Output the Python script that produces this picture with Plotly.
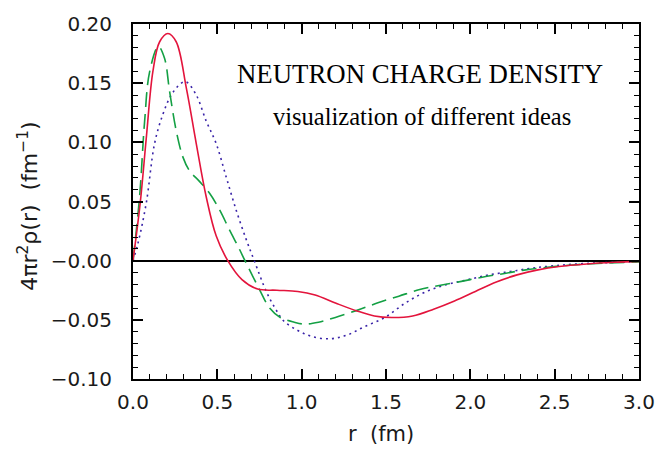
import plotly.graph_objects as go

# red solid curve
r_red = [0, 0.043, 0.079, 0.118, 0.158, 0.207, 0.256, 0.316, 0.375, 0.434, 0.493, 0.562,
         0.646, 0.739, 0.853, 0.977, 1.08, 1.204, 1.328, 1.431, 1.534, 1.658, 1.782, 1.906,
         2.03, 2.154, 2.277, 2.401, 2.525, 2.69, 2.856, 3.0]
y_red = [0, 0.049, 0.104, 0.160, 0.185, 0.192, 0.185, 0.146, 0.099, 0.054, 0.021, 0.0,
         -0.016, -0.024, -0.025, -0.026, -0.029, -0.036, -0.0425, -0.0467, -0.048, -0.0467,
         -0.041, -0.034, -0.026, -0.018, -0.012, -0.0078, -0.005, -0.0028, -0.0014, -0.0006]

# green dashed curve
r_green = [0, 0.039, 0.069, 0.099, 0.15, 0.187, 0.217, 0.256, 0.296, 0.335, 0.394, 0.454,
           0.513, 0.572, 0.631, 0.664, 0.75, 0.81, 0.873, 0.956, 1.018, 1.10, 1.20, 1.328,
           1.452, 1.576, 1.70, 1.823, 1.947, 2.07, 2.195, 2.319, 2.443, 2.608, 2.814, 3.0]
y_green = [0, 0.054, 0.118, 0.160, 0.181, 0.171, 0.143, 0.110, 0.0875, 0.076, 0.067, 0.057,
           0.043, 0.026, 0.0097, 0.0, -0.0244, -0.040, -0.048, -0.052, -0.0536, -0.052, -0.048,
           -0.042, -0.0356, -0.030, -0.0244, -0.0208, -0.0175, -0.014, -0.011, -0.008, -0.0058,
           -0.0036, -0.0019, -0.0011]

# blue dotted curve
r_blue = [0, 0.030, 0.079, 0.128, 0.178, 0.227, 0.286, 0.316, 0.375, 0.434, 0.493, 0.552,
          0.611, 0.671, 0.719, 0.79, 0.842, 0.894, 0.977, 1.059, 1.163, 1.266, 1.369, 1.493,
          1.617, 1.741, 1.865, 1.988, 2.112, 2.236, 2.36, 2.505, 2.67, 2.856, 3.0]
y_blue = [0, 0.015, 0.049, 0.099, 0.124, 0.140, 0.150, 0.151, 0.140, 0.118, 0.099, 0.071,
          0.043, 0.018, 0.0, -0.026, -0.040, -0.051, -0.059, -0.064, -0.066, -0.063, -0.056,
          -0.048, -0.0356, -0.026, -0.020, -0.016, -0.012, -0.0092, -0.0064, -0.0042, -0.0025,
          -0.0014, -0.0008]

x_ticks = [0.0, 0.5, 1.0, 1.5, 2.0, 2.5, 3.0]
x_ticklabels = ["0.0", "0.5", "1.0", "1.5", "2.0", "2.5", "3.0"]
y_ticks = [0.20, 0.15, 0.10, 0.05, 0.0, -0.05, -0.10]
y_ticklabels = ["0.20", "0.15", "0.10", "0.05", "\u22120.00", "\u22120.05", "\u22120.10"]

fig = go.Figure()
fig.add_trace(go.Scatter(x=r_blue, y=y_blue, mode="lines", line_shape="spline",
                         line=dict(color="#3a24a8", width=1.6, dash="2px,4px")))
fig.add_trace(go.Scatter(x=r_green, y=y_green, mode="lines", line_shape="spline",
                         line=dict(color="#14a044", width=1.6, dash="15px,7px")))
fig.add_trace(go.Scatter(x=r_red, y=y_red, mode="lines", line_shape="spline",
                         line=dict(color="#e3143c", width=1.6)))

txtcol = "#1a1a1a"
tickfont = dict(family="DejaVu Sans", size=20, color=txtcol)
axis_common = dict(showline=True, linecolor="black", linewidth=2, mirror="ticks",
                   ticks="inside", tickwidth=1.5, tickcolor="black", ticklen=10,
                   showgrid=False, tickfont=tickfont)

fig.update_xaxes(range=[0, 3], tickvals=x_ticks, ticktext=x_ticklabels,
                 minor=dict(ticks="inside", ticklen=5, dtick=0.1, tickwidth=1.3,
                            tickcolor="black", showgrid=False),
                 zeroline=False, ticklabelstandoff=4, **axis_common)
fig.update_yaxes(range=[-0.10, 0.20], tickvals=y_ticks, ticktext=y_ticklabels,
                 minor=dict(ticks="inside", ticklen=5, dtick=0.01, tickwidth=1.3,
                            tickcolor="black", showgrid=False),
                 zeroline=True, zerolinecolor="black", zerolinewidth=1.5,
                 ticklabelstandoff=15, **axis_common)

fig.add_annotation(text="NEUTRON CHARGE DENSITY", xref="paper", yref="paper",
                   x=0.567, y=0.86, xanchor="center", yanchor="middle", showarrow=False,
                   font=dict(family="Liberation Serif", size=26.8, color="black"))
fig.add_annotation(text="visualization of different ideas", xref="paper", yref="paper",
                   x=0.571, y=0.74, xanchor="center", yanchor="middle", showarrow=False,
                   font=dict(family="Liberation Serif", size=24.5, color="black"))
fig.add_annotation(text="r  (fm)", xref="paper", yref="paper", x=0.491, y=-0.156,
                   xanchor="center", yanchor="middle", showarrow=False,
                   font=dict(family="DejaVu Sans", size=21, color=txtcol))
fig.add_annotation(text="4\u03c0r<sup>2</sup>\u03c1(r)  (fm<sup>\u22121</sup>)", xref="paper",
                   yref="paper", x=-0.207, y=0.486, textangle=-90, showarrow=False,
                   xanchor="center", yanchor="middle",
                   font=dict(family="DejaVu Sans", size=22, color=txtcol))

fig.update_layout(width=667, height=449, margin=dict(l=133, r=27, t=19, b=70),
                  paper_bgcolor="white", plot_bgcolor="white", showlegend=False)

fig.write_html("out.html")
